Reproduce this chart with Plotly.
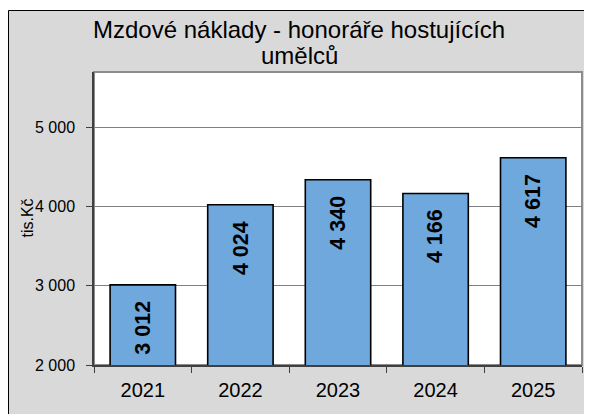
import plotly.graph_objects as go

# ---- data ----
years = ["2021", "2022", "2023", "2024", "2025"]
values = [3012, 4024, 4340, 4166, 4617]
y_ticks = [2000, 3000, 4000, 5000]
title_line1 = "Mzdové náklady - honoráře hostujících"
title_line2 = "umělců"
y_title = "tis.Kč"

# page is rendered with an 8px body margin, so the figure is sized/offset for it
OFF = 8
W, H = 592 - OFF, 414 - OFF
L, R, T, B = 94 - OFF, 10, 72 - OFF, 49
PW, PH = W - L - R, H - T - B


def px_x(px):
    """page x pixel -> paper coordinate"""
    return (px - OFF - L) / PW


def px_y(py):
    """page y pixel -> paper coordinate"""
    return (H - B - (py - OFF)) / PH


FONT = "Liberation Sans, Arial, sans-serif"

fig = go.Figure()
fig.add_trace(go.Bar(
    x=years, y=values,
    marker=dict(color="#6FA8DC", line=dict(color="#000000", width=1.6)),
    hoverinfo="skip",
))

annotations = []
for i, v in enumerate(values):
    annotations.append(dict(
        x=i, y=v, xref="x", yref="y",
        text=f"{v:,}".replace(",", " "),
        textangle=-90, showarrow=False,
        xanchor="center", yanchor="top", yshift=-14,
        font=dict(family=FONT, size=21.5, color="#000000", weight="bold"),
    ))

annotations.append(dict(
    x=px_x(299), y=px_y(29), xref="paper", yref="paper",
    text=title_line1, showarrow=False, xanchor="center", yanchor="middle",
    font=dict(family=FONT, size=24, color="#000000"),
))
annotations.append(dict(
    x=px_x(299), y=px_y(55), xref="paper", yref="paper",
    text=title_line2, showarrow=False, xanchor="center", yanchor="middle",
    font=dict(family=FONT, size=24, color="#000000"),
))
annotations.append(dict(
    x=px_x(27), y=0.5, xref="paper", yref="paper",
    text=y_title, textangle=-90, showarrow=False,
    xanchor="center", yanchor="middle",
    font=dict(family=FONT, size=16, color="#000000"),
))

shapes = [
    dict(type="rect", xref="paper", yref="paper", layer="below",
         x0=px_x(8.5), x1=1.2, y0=-0.5, y1=px_y(10.5),
         fillcolor="#D9D9D9", line=dict(color="#000000", width=1)),
    dict(type="rect", xref="paper", yref="paper", layer="below",
         x0=0, x1=1, y0=0, y1=1,
         fillcolor="#FFFFFF", line=dict(color="#8C8C8C", width=2)),
]

fig.update_layout(
    width=W, height=H,
    margin=dict(l=L, r=R, t=T, b=B, pad=0, autoexpand=False),
    paper_bgcolor="#FFFFFF",
    plot_bgcolor="#FFFFFF",
    separators=", ",
    bargap=0.33,
    showlegend=False,
    font=dict(family=FONT, color="#000000"),
    annotations=annotations,
    shapes=shapes,
)

fig.update_xaxes(
    type="category",
    range=[-0.5, len(years) - 0.5],
    automargin=False,
    showline=True, linecolor="#404040", linewidth=1.5,
    ticks="outside", ticklen=6, tickcolor="#404040", tickwidth=1,
    tickson="boundaries",
    tickangle=0,
    tickfont=dict(family=FONT, size=20, color="#000000"),
    ticklabelstandoff=6,
    showgrid=False,
    fixedrange=True,
)

fig.update_yaxes(
    range=[2000, 5700],
    automargin=False,
    tickvals=y_ticks, tickformat=",d",
    showline=True, linecolor="#404040", linewidth=1.5,
    ticks="outside", ticklen=6, tickcolor="#404040", tickwidth=1,
    tickfont=dict(family=FONT, size=16, color="#000000"),
    ticklabelstandoff=8,
    showgrid=True, gridcolor="#808080", gridwidth=1,
    zeroline=False,
    fixedrange=True,
)

fig.write_html("out.html")
